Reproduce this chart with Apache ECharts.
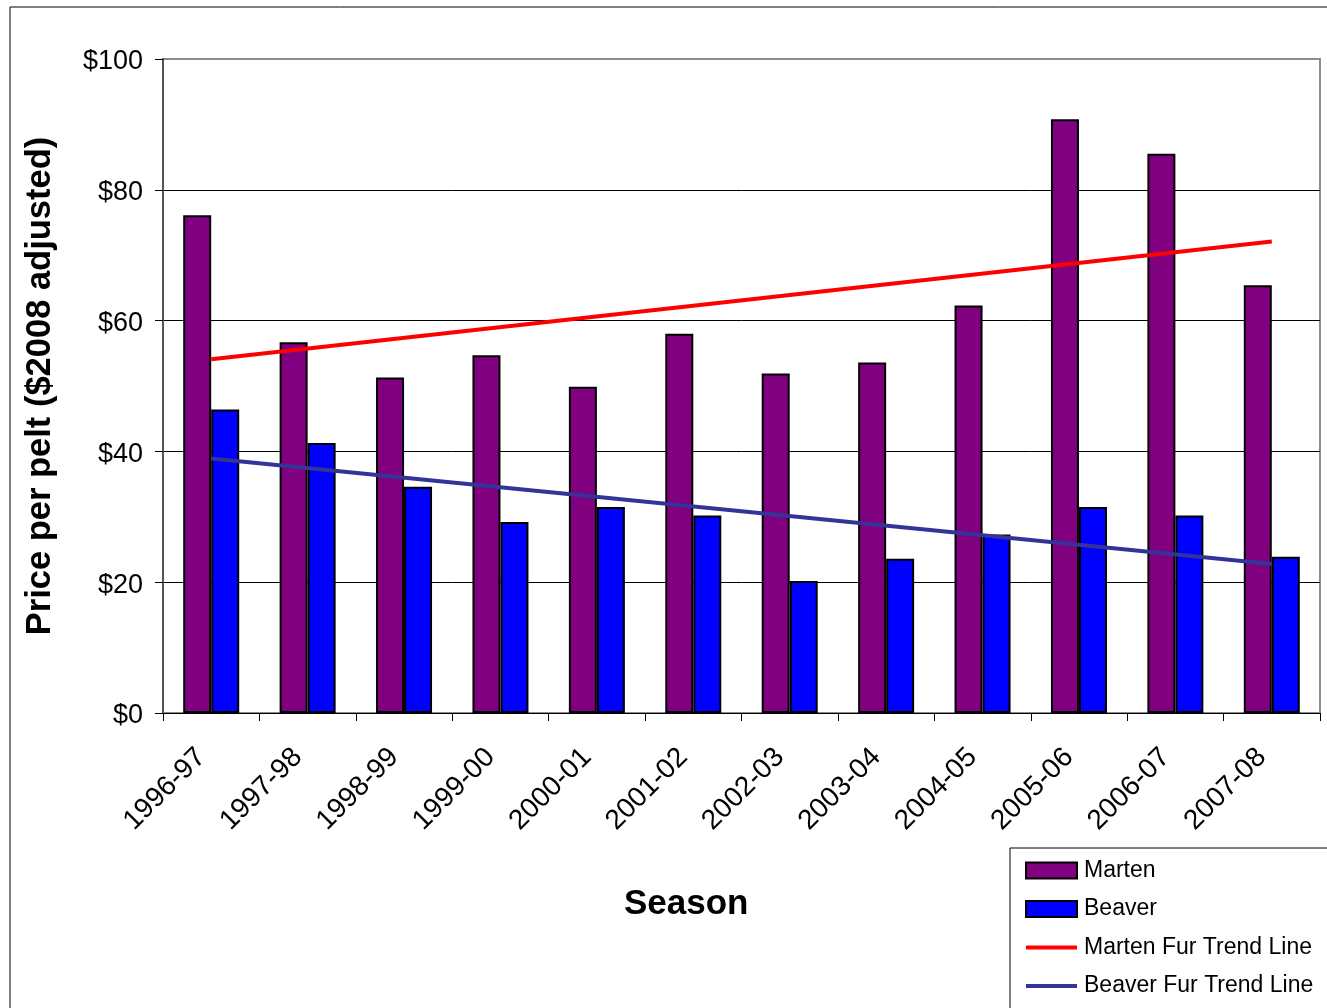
<!DOCTYPE html>
<html>
<head>
<meta charset="utf-8">
<script src="https://cdn.jsdelivr.net/npm/echarts@6/dist/echarts.min.js"></script>
<style>
  html, body { margin: 0; padding: 0; background: #fff; }
  #chart { width: 1327px; height: 1008px; }
</style>
</head>
<body>
<div id="chart"></div>
<script>
const seasons = ['1996-97', '1997-98', '1998-99', '1999-00', '2000-01', '2001-02',
  '2002-03', '2003-04', '2004-05', '2005-06', '2006-07', '2007-08']
const marten = [76.1, 56.7, 51.3, 54.7, 49.9, 58.0, 51.9, 53.6, 62.3, 90.8, 85.5, 65.4]
const beaver = [46.4, 41.3, 34.6, 29.2, 31.5, 30.2, 20.2, 23.6, 27.3, 31.5, 30.2, 23.9]
// trend lines: value at first and last season
const martenTrend = [54.1, 72.1]
const beaverTrend = [38.9, 22.8]
const yTicks = [0, 20, 40, 60, 80, 100]

const font = '"Liberation Sans", Arial, sans-serif'
// thin bar for the trend line legend icons (corner moves keep the box size)
const lineIcon = 'path://M0,0L0.01,0M0,6H51V10H0ZM51,16L50.99,16'
const myChart = echarts.init(document.getElementById('chart'))

myChart.setOption({
  animation: false,
  backgroundColor: '#fff',
  textStyle: { fontFamily: font, color: '#000' },
  grid: {
    left: 163,
    right: 7,
    top: 59,
    bottom: 295,
    show: true,
    borderColor: '#8c8c8c',
    borderWidth: 2
  },
  legend: {
    left: 1020,
    top: 854,
    orient: 'vertical',
    itemWidth: 51,
    itemHeight: 16,
    itemGap: 15.5,
    textStyle: { fontSize: 23, fontFamily: font, color: '#000', padding: [0, 0, 0, 2] },
    data: [
      { name: 'Marten', icon: 'rect' },
      { name: 'Beaver', icon: 'rect' },
      { name: 'Marten Fur Trend Line', icon: lineIcon },
      { name: 'Beaver Fur Trend Line', icon: lineIcon }
    ]
  },
  xAxis: {
    type: 'category',
    data: seasons,
    axisLine: { lineStyle: { color: '#000', width: 1 } },
    axisTick: { show: true, length: 8, alignWithLabel: false, lineStyle: { color: '#000' } },
    axisLabel: {
      rotate: 45, fontSize: 28, color: '#000', margin: 30, fontFamily: font,
      interval: 0, padding: [0, 14, 0, 0]
    },
    splitLine: { show: false }
  },
  yAxis: {
    type: 'value',
    min: 0,
    max: 100,
    interval: 20,
    name: 'Price per pelt ($2008 adjusted)',
    nameLocation: 'middle',
    nameGap: 105,
    nameTextStyle: { fontSize: 34.5, fontWeight: 'bold', color: '#000', fontFamily: font },
    axisLine: { show: true, lineStyle: { color: '#555', width: 2 } },
    axisTick: { show: true, length: 8, lineStyle: { color: '#000' } },
    axisLabel: {
      fontSize: 27, color: '#000', margin: 20, fontFamily: font,
      formatter: v => '{v|$' + v + '}',
      rich: {
        v: { fontSize: 27, color: '#000', fontFamily: font, padding: [6, 0, 0, 0] }
      }
    },
    splitLine: {
      show: true,
      lineStyle: { color: yTicks.map(t => t === 100 ? '#8c8c8c' : '#000'), width: 1 }
    }
  },
  graphic: [
    {
      type: 'rect',
      shape: { x: 10, y: 7, width: 1340, height: 1010 },
      style: { fill: 'none', stroke: '#000', lineWidth: 1 },
      silent: true
    },
    {
      type: 'rect',
      shape: { x: 1010, y: 848, width: 340, height: 170 },
      style: { fill: 'none', stroke: '#000', lineWidth: 1 },
      silent: true
    },
    {
      type: 'text',
      left: 624,
      top: 887,
      style: { text: 'Season', font: 'bold 35px ' + font, fill: '#000' }
    }
  ],
  series: [
    {
      name: 'Marten',
      type: 'bar',
      data: marten,
      barWidth: 28,
      barGap: '0%',
      itemStyle: { color: '#800080', borderColor: '#000', borderWidth: 2 }
    },
    {
      name: 'Beaver',
      type: 'bar',
      data: beaver,
      barWidth: 28,
      barGap: '0%',
      itemStyle: { color: '#0000ff', borderColor: '#000', borderWidth: 2 }
    },
    {
      name: 'Marten Fur Trend Line',
      type: 'line',
      data: [[seasons[0], martenTrend[0]], [seasons[seasons.length - 1], martenTrend[1]]],
      symbol: 'none',
      lineStyle: { color: '#ff0000', width: 4 },
      itemStyle: { color: '#ff0000' },
      z: 5
    },
    {
      name: 'Beaver Fur Trend Line',
      type: 'line',
      data: [[seasons[0], beaverTrend[0]], [seasons[seasons.length - 1], beaverTrend[1]]],
      symbol: 'none',
      lineStyle: { color: '#333399', width: 4 },
      itemStyle: { color: '#333399' },
      z: 5
    }
  ]
})
</script>
</body>
</html>
